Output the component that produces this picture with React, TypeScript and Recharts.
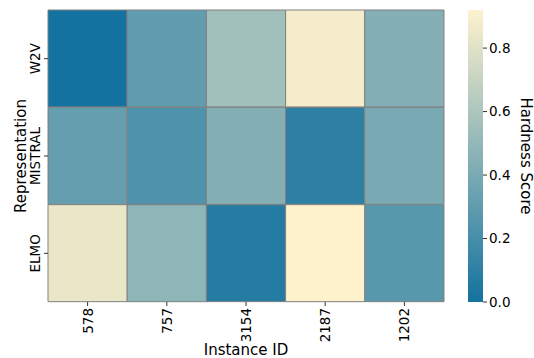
import { BarChart, Bar, Cell, XAxis, YAxis, Label } from "recharts";

const instanceIds = ["578", "757", "3154", "2187", "1202"];
const representations = ["W2V", "MISTRAL", "ELMO"];

// hardness score per representation, one entry per instance id
const w2vScores = [0.0, 0.31, 0.56, 0.88, 0.44];
const mistralScores = [0.32, 0.23, 0.44, 0.1, 0.4];
const elmoScores = [0.84, 0.48, 0.07, 0.92, 0.27];

const scoreMax = 0.92;
const colorbarTicks = [0, 0.2, 0.4, 0.6, 0.8];

const LOW = [19, 114, 159];
const HIGH = [254, 242, 205];

const FONT = "'DejaVu Sans', sans-serif";

function scoreColor(v: number) {
  const t = Math.max(0, Math.min(1, v / scoreMax));
  const c = LOW.map((l, i) => Math.round(l + (HIGH[i] - l) * t));
  return `rgb(${c[0]},${c[1]},${c[2]})`;
}

const scoreRows = [w2vScores, mistralScores, elmoScores];

const heatData = representations.map((rep, r) => {
  const row: any = { rep };
  instanceIds.forEach((_, i) => {
    row["c" + i] = 1;
  });
  row.scores = scoreRows[r];
  return row;
});

const XTick = (props: any) => {
  const { x, y, payload } = props;
  const label = instanceIds[Math.floor(payload.value)];
  return (
    <text
      x={x}
      y={y}
      transform={`rotate(-90, ${x}, ${y})`}
      textAnchor="end"
      dominantBaseline="central"
      fontSize={13.5}
      fontFamily={FONT}
      fill="#000"
    >
      {label}
    </text>
  );
};

const YTick = (props: any) => {
  const { x, y, payload } = props;
  const tx = x - 7;
  return (
    <text
      x={tx}
      y={y}
      transform={`rotate(-90, ${tx}, ${y})`}
      textAnchor="middle"
      dominantBaseline="central"
      fontSize={13.5}
      fontFamily={FONT}
      fill="#000"
    >
      {payload.value}
    </text>
  );
};

export default function App() {
  return (
    <div style={{ position: "absolute", left: 0, top: 0, width: 534, height: 358, background: "#fff" }}>
      {/* heatmap */}
      <div style={{ position: "absolute", left: 0, top: 0 }}>
        <BarChart
          width={460}
          height={358}
          data={heatData}
          layout="vertical"
          barCategoryGap={0}
          margin={{ top: 10, right: 16, bottom: 0, left: 8 }}
        >
          <XAxis
            type="number"
            domain={[0, instanceIds.length]}
            ticks={instanceIds.map((_, i) => i + 0.5)}
            tick={<XTick />}
            tickSize={4}
            tickLine={{ stroke: "#333" }}
            axisLine={false}
            height={56}
            interval={0}
          >
            <Label
              content={(p: any) => {
                const vb = p.viewBox;
                return (
                  <text
                    x={vb.x + vb.width / 2}
                    y={vb.y + 53}
                    textAnchor="middle"
                    fontSize={15}
                    fontFamily={FONT}
                    fill="#000"
                  >
                    Instance ID
                  </text>
                );
              }}
            />
          </XAxis>
          <YAxis
            type="category"
            dataKey="rep"
            width={40}
            tick={<YTick />}
            tickSize={4}
            tickLine={{ stroke: "#333" }}
            axisLine={false}
            interval={0}
          >
            <Label
              content={(p: any) => {
                const vb = p.viewBox;
                const lx = vb.x + 13;
                const ly = vb.y + vb.height / 2;
                return (
                  <text
                    x={lx}
                    y={ly}
                    transform={`rotate(-90, ${lx}, ${ly})`}
                    textAnchor="middle"
                    dominantBaseline="central"
                    fontSize={15}
                    fontFamily={FONT}
                    fill="#000"
                  >
                    Representation
                  </text>
                );
              }}
            />
          </YAxis>
          {instanceIds.map((id, i) => (
            <Bar
              key={id}
              dataKey={"c" + i}
              stackId="cells"
              isAnimationActive={false}
              stroke="#808080"
              strokeWidth={1}
            >
              {heatData.map((row) => (
                <Cell key={row.rep} fill={scoreColor(row.scores[i])} />
              ))}
            </Bar>
          ))}
        </BarChart>
      </div>

      {/* colorbar */}
      <div style={{ position: "absolute", left: 460, top: 0 }}>
        <BarChart
          width={74}
          height={358}
          data={[{ name: "bar", v: scoreMax }]}
          barCategoryGap={0}
          margin={{ top: 10, right: 0, bottom: 56, left: 8 }}
        >
          <defs>
            <linearGradient id="scoreGrad" x1="0" y1="1" x2="0" y2="0">
              <stop offset="0%" stopColor={scoreColor(0)} />
              <stop offset="100%" stopColor={scoreColor(scoreMax)} />
            </linearGradient>
          </defs>
          <XAxis dataKey="name" hide />
          <YAxis
            orientation="right"
            type="number"
            domain={[0, scoreMax]}
            ticks={colorbarTicks}
            tickFormatter={(v: number) => v.toFixed(1)}
            tick={{ fontSize: 13.5, fontFamily: FONT, fill: "#000" }}
            tickSize={4}
            tickLine={{ stroke: "#333" }}
            axisLine={false}
            width={51}
          >
            <Label
              content={(p: any) => {
                const vb = p.viewBox;
                const lx = vb.x + 43;
                const ly = vb.y + vb.height / 2;
                return (
                  <text
                    x={lx}
                    y={ly}
                    transform={`rotate(90, ${lx}, ${ly})`}
                    textAnchor="middle"
                    dominantBaseline="central"
                    fontSize={15}
                    fontFamily={FONT}
                    fill="#000"
                  >
                    Hardness Score
                  </text>
                );
              }}
            />
          </YAxis>
          <Bar dataKey="v" fill="url(#scoreGrad)" isAnimationActive={false} />
        </BarChart>
      </div>
    </div>
  );
}
